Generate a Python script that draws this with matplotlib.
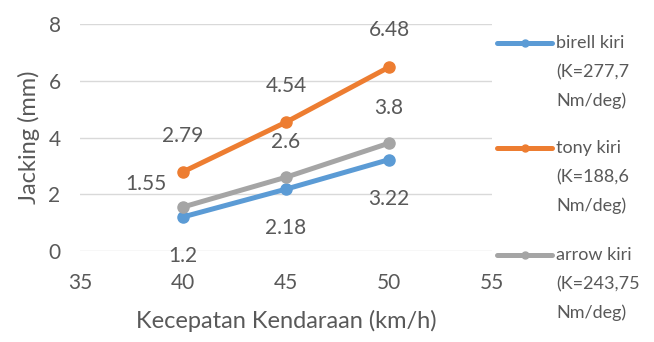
import matplotlib.pyplot as plt
from matplotlib.lines import Line2D

kecepatan = [40, 45, 50]
birell = [1.2, 2.18, 3.22]
tony = [2.79, 4.54, 6.48]
arrow = [1.55, 2.6, 3.8]

nama = ["birell kiri\n(K=277,7\nNm/deg)",
        "tony kiri\n(K=188,6\nNm/deg)",
        "arrow kiri\n(K=243,75\nNm/deg)"]
warna = ["#5B9BD5", "#ED7D31", "#A5A5A5"]
# offset label data (px) per seri
offset_label = [
    [(0, -39), (0, -39), (0, -39)],
    [(0, 36), (0, 36), (0, 37)],
    [(-37, 23), (0, 35), (0, 35)],
]

plt.rcParams["font.family"] = ["Lato", "DejaVu Sans"]
teks = "#595959"

fig = plt.figure(figsize=(6.54, 3.42), dpi=100)
ax = fig.add_axes([0.1223, 0.2661, 0.63, 0.6637])

for y, c, offs in zip([birell, tony, arrow], warna, offset_label):
    ax.plot(kecepatan, y, color=c, lw=3.6, marker="o", ms=8,
            solid_capstyle="round", zorder=3)
    for xi, yi, (dx, dy) in zip(kecepatan, y, offs):
        ax.annotate(f"{yi:g}", (xi, yi), xytext=(dx * 0.72, dy * 0.72),
                    textcoords="offset points", ha="center", va="center",
                    fontsize=15, color=teks)

ax.set_xlim(35, 55)
ax.set_ylim(0, 8)
ax.set_xticks([35, 40, 45, 50, 55])
ax.set_yticks([0, 2, 4, 6, 8])
ax.grid(axis="y", color="#D9D9D9", lw=1)
ax.set_axisbelow(True)
for s in ax.spines.values():
    s.set_visible(False)
ax.tick_params(length=0, labelsize=15, labelcolor=teks)
ax.tick_params(axis="x", pad=16)
ax.tick_params(axis="y", pad=14)
ax.set_xlabel("Kecepatan Kendaraan (km/h)", fontsize=17, color=teks, labelpad=12)
ax.set_ylabel("Jacking (mm)", fontsize=17, color=teks, labelpad=6)

# legenda manual: garis sejajar baris pertama teks
W, H = 654, 342
legend_y = [43, 148, 255]
for lab, c, yy in zip(nama, warna, legend_y):
    fy = 1 - yy / H
    fig.add_artist(Line2D([497 / W, 552 / W], [fy, fy], color=c, lw=3.6,
                          solid_capstyle="round", transform=fig.transFigure))
    fig.add_artist(Line2D([525 / W], [fy], color=c, marker="o", ms=5,
                          transform=fig.transFigure))
    for i, baris in enumerate(lab.split("\n")):
        fig.text(556 / W, 1 - (yy + i * 29) / H, baris, fontsize=13,
                 color=teks, ha="left", va="center")

fig.savefig("out.png", dpi=100)
